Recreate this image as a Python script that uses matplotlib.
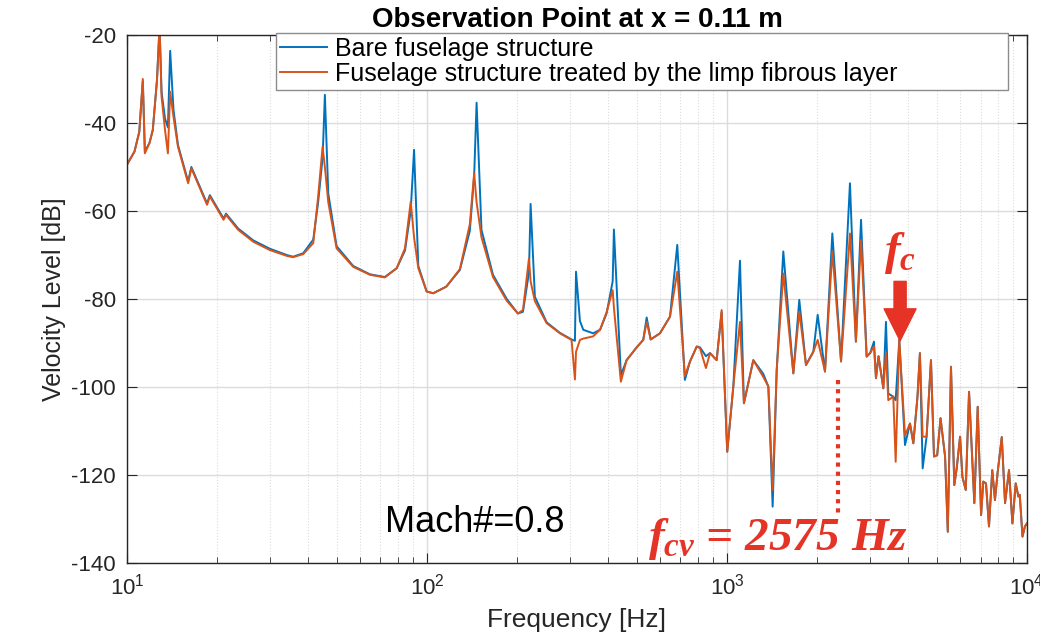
import numpy as np
import matplotlib
matplotlib.use('Agg')
import matplotlib.pyplot as plt

plt.rcParams['font.family'] = ['Liberation Sans', 'DejaVu Sans']
plt.rcParams['mathtext.fontset'] = 'custom'
plt.rcParams['mathtext.it'] = 'Liberation Serif:italic:bold'
plt.rcParams['mathtext.rm'] = 'Liberation Sans'
plt.rcParams['axes.unicode_minus'] = False

# frequency samples [Hz], below ~3.8 kHz
freq_low = [10.0, 10.6, 11.0, 11.3, 11.48, 11.9, 12.2, 12.6, 12.85, 13.05, 13.4, 13.7, 13.94,
            14.3, 14.8, 16.0, 16.4, 18.5, 18.9, 21.0, 21.4, 23.5, 26.4, 30.0, 34.1, 35.8,
            38.7, 41.8, 43.4, 44.9, 45.7, 46.9, 50.0, 56.8, 64.6, 72.4, 79.3, 84.5, 88.3,
            90.6, 93.6, 99.8, 105, 116, 128.8, 139, 143.7, 146.4, 152, 166, 184.5, 201,
            209, 218.8, 221.6, 229, 250.6, 277.5, 303.4, 311.4, 314, 323.6, 332, 358,
            377.6, 397, 416, 420, 443, 463, 500, 526, 540, 557, 598, 646, 683, 724, 753,
            793, 813, 851, 878, 924, 960, 1002, 1050, 1105, 1139, 1224, 1321, 1374, 1420,
            1465, 1541, 1664, 1742, 1834, 1940, 2006, 2122, 2245, 2400, 2570, 2690, 2798,
            2921, 3000, 3090, 3138, 3200, 3320, 3388, 3449, 3584, 3650, 3752]
# above ~3.8 kHz
freq_high = [3921, 4074, 4180, 4315, 4396, 4490, 4627, 4786, 4898, 5020, 5150, 5333, 5445,
             5580, 5725, 5830, 5984, 6090, 6250, 6410, 6675, 6850, 7030, 7150, 7300, 7470,
             7660, 7820, 7980, 8240, 8450, 8710, 8940, 9170, 9360, 9460, 9660, 9840, 10000]

# bare fuselage structure [dB]
bare_low = [-49.5, -46.5, -42.0, -30.5, -46.5, -44.5, -41.6, -30.2, -18, -33, -39, -41, -23.6,
            -37, -45, -53.3, -50, -58.3, -56.4, -61.7, -60.6, -64, -66.7, -68.6, -70.0, -70.4,
            -69.6, -66.5, -58, -48, -33.6, -56, -68, -72.5, -74.4, -75.0, -73, -69, -60,
            -46.1, -72.5, -78.3, -78.7, -77.2, -73.4, -64.5, -52, -35.4, -64.3, -74.5, -80, -83.3,
            -82.9, -74, -58.4, -79.5, -85.3, -87.7, -89.2, -89.5, -73.8, -85, -87, -87.8,
            -87.0, -83.3, -76, -64.2, -97.3, -93.9, -91, -89.3, -84.2, -89.2, -87.8, -84, -67.7, -98.4, -94.2,
            -90.8, -91.0, -93, -92.3, -93.9, -83, -114.7, -99.9, -71.3, -103.7, -93.9, -97, -99.9, -127.2,
            -96.1, -69.2, -96.9, -80.2, -95, -92, -83.6, -96.5, -65.1, -94.2, -53.7, -89.7, -62,
            -93.1, -92.3, -89.7, -98, -93, -100.3, -85.2, -101.5, -102.2, -103, -89.3]
bare_high = [-113.2, -108.3, -112.8, -102.2, -92.3, -118.5, -111.3, -93.9, -115.8, -115.5, -107.1,
             -115.8, -132.9, -95.4, -122.3, -118.5, -111.3, -120.4, -123.4, -101.1, -126.4, -104.5,
             -129.1, -121.5, -121.9, -131.7, -118.9, -125.7, -119.5, -111.4, -126.4, -118.9, -131,
             -121.9, -124.9, -124.5, -134, -131.7, -131]

# treated by the limp fibrous layer [dB]
treated_low = [-49.5, -46.5, -42.0, -30.0, -46.9, -44.5, -41.6, -30.2, -18, -34, -41.6, -46.9, -32.9,
               -38.6, -45.4, -53.7, -50.3, -58.6, -56.7, -62.0, -60.9, -64.3, -67.0, -68.9, -70.2, -70.5,
               -69.8, -67.3, -56.7, -45.4, -50, -58, -68.5, -72.7, -74.5, -75.1, -73, -68.5, -57.9,
               -66, -73, -78.3, -78.7, -77.2, -73.2, -63, -51.4, -58, -66, -75, -80.4, -83.3,
               -82.5, -70.8, -76, -80.5, -85.5, -87.8, -89.3, -98.3, -92, -89.3, -89, -88.5,
               -87.0, -83.0, -78, -82, -98.8, -93.9, -91, -89.3, -85.2, -89.2, -87.8, -84, -73.8, -97.5, -94.2,
               -90.8, -91.2, -95.7, -92.3, -93.9, -82.5, -114.7, -99.9, -85.2, -103.7, -93.9, -97.7, -99.9, -123.4,
               -96.1, -74.2, -96.9, -82.9, -95, -92, -89.3, -96.5, -69.2, -94.2, -65.1, -89.7, -66.6,
               -93.1, -92.3, -90.8, -98, -93, -100.3, -92.3, -103, -102.2, -117, -89.3]
treated_high = [-111, -108.3, -112.8, -102.2, -92.3, -111.3, -111.3, -93.9, -115.8, -115.5, -107.1,
                -115.8, -132.9, -95.4, -122.3, -118.5, -111.3, -120.4, -123.4, -101.1, -126.4, -104.5,
                -129.1, -121.5, -121.9, -131.7, -118.9, -125.7, -119.5, -111.4, -126.4, -118.9, -131,
                -121.9, -124.9, -124.5, -134, -131.7, -131]

freq = freq_low + freq_high
bare = bare_low + bare_high
treated = treated_low + treated_high

labels = ['Bare fuselage structure', 'Fuselage structure treated by the limp fibrous layer']
yticks = [-140, -120, -100, -80, -60, -40, -20]

# annotation positions
fc_freq = 3776
fc_arrow = (-76.0, -89.5)
fcv_line_freq = 2344
fcv_line = (-98.4, -128.6)

red = '#E53326'
axcol = '#262626'

fig = plt.figure(figsize=(10.4, 6.36), dpi=100)
ax = fig.add_axes([0.122, 0.1148, 0.8655, 0.8302])

ax.plot(freq, bare, color='#0072BD', lw=1.4, label=labels[0])
ax.plot(freq, treated, color='#D95319', lw=1.4, label=labels[1])

ax.set_xscale('log')
ax.set_xlim(10, 1e4)
ax.set_ylim(-140, -20)
ax.set_yticks(yticks)

ax.grid(True, which='major', color='#dcdcdc', lw=1.0)
ax.grid(True, which='minor', axis='x', color='#dcdcdc', lw=0.8, linestyle=':')
ax.set_axisbelow(True)

ax.tick_params(which='both', direction='in', top=True, right=True, colors=axcol,
               labelsize=16, pad=8)
ax.tick_params(which='major', length=7)
ax.tick_params(which='minor', length=4)
ax.tick_params(axis='y', which='minor', left=False, right=False)
for s in ax.spines.values():
    s.set_color(axcol)
    s.set_linewidth(1.0)

ax.set_title('Observation Point at x = 0.11 m', fontsize=20, fontweight='bold', pad=6)
ax.set_xlabel('Frequency [Hz]', fontsize=19, color=axcol, labelpad=6)
ax.set_ylabel('Velocity Level [dB]', fontsize=18, color=axcol, labelpad=4)

leg = ax.legend(loc='upper left', bbox_to_anchor=(0.1656, 1.004, 0.813, 0), mode='expand',
                borderaxespad=0, fancybox=False, framealpha=1, edgecolor='#8c8c8c',
                fontsize=18, handlelength=1.9, handletextpad=0.3, labelspacing=0.05,
                borderpad=0.15)
leg.get_frame().set_linewidth(1.0)

# annotations
ax.text(72.4, -133, 'Mach#=0.8', fontsize=26, color='black', ha='left', va='baseline')
ax.text(546, -137, r'$f_{cv}$ = 2575 Hz', fontsize=34, color=red, ha='left', va='baseline',
        family='Liberation Serif', fontweight='bold', style='italic')
ax.text(fc_freq, -72, r'$f_c$', fontsize=34, color=red, ha='center', va='baseline',
        family='Liberation Serif', fontweight='bold', style='italic')
ax.annotate('', xy=(fc_freq, fc_arrow[1]), xytext=(fc_freq, fc_arrow[0]),
            arrowprops=dict(arrowstyle='simple,head_length=1.0,head_width=1.0,tail_width=0.38',
                            color=red, mutation_scale=23, shrinkA=0, shrinkB=0))
ax.plot([fcv_line_freq, fcv_line_freq], fcv_line, color=red, lw=3, linestyle=(0, (1, 1.2)))

fig.savefig('out.png', dpi=100)
